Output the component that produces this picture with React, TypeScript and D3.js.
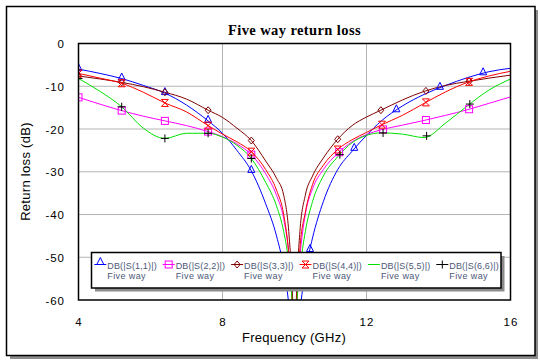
import React from 'react';
import * as d3 from 'd3';

const W = 540;
const H = 362;

// frequency grid (GHz), denser around the 10 GHz match
const freqs = [4.0, 4.6, 5.2, 5.8, 6.4, 7.0, 7.6, 8.0, 8.4, 8.8, 9.2, 9.5, 9.7, 9.85, 9.95, 10.0,
    10.05, 10.15, 10.3, 10.5, 10.8, 11.2, 11.6, 12.0, 12.4, 13.0, 13.6, 14.2, 14.8, 15.4, 16.0];

const s11 = [-6.0, -7.0, -8.2, -9.8, -11.6, -14.4, -18.1, -21.0, -25.0, -29.8, -37.5, -45.0, -52.5, -62, -74, -80,
    -74, -63, -53.5, -45.5, -37.0, -29.5, -25.2, -21.5, -18.2, -14.6, -11.9, -9.8, -8.0, -6.6, -5.8];
const s22 = [-12.6, -14.2, -15.7, -17.0, -18.1, -19.2, -20.6, -21.8, -23.5, -26.0, -30.5, -35.5, -41, -50, -62, -70,
    -62, -50, -40, -34, -29.5, -25.7, -23.0, -21.3, -20.2, -19.1, -18.0, -16.8, -15.5, -14.0, -12.5];
const s33 = [-7.6, -8.3, -9.1, -10.1, -11.4, -13.0, -15.6, -17.3, -19.8, -22.7, -27.5, -31.5, -35.5, -45, -60, -75,
    -60, -44, -35.5, -31.0, -26.8, -22.4, -19.2, -17.2, -15.6, -13.2, -11.2, -9.8, -8.9, -8.1, -7.4];
const s44 = [-7.0, -8.1, -9.3, -11.4, -13.9, -16.0, -19.2, -21.2, -23.0, -25.3, -29.5, -34.3, -40, -50, -63, -72,
    -63, -48, -39.5, -33, -28.5, -24.8, -22.5, -20.8, -19.1, -16.8, -14.0, -11.3, -9.1, -7.6, -6.5];
const s55 = [-8.2, -11.2, -14.8, -19.8, -22.2, -21.0, -21.0, -21.9, -23.8, -26.9, -32.5, -38, -44, -52, -62, -68,
    -62, -53, -44, -37, -31, -26.5, -23.2, -21.5, -20.9, -21.2, -22.0, -18.6, -14.6, -10.9, -8.3];
// S(6,6) trace coincides with S(5,5); only its markers show
const s66 = [-8.2, -11.2, -14.8, -19.8, -22.2, -21.0, -21.0, -21.9, -23.8, -26.9, -32.5, -38, -44, -52, -62, -68,
    -62, -53, -44, -37, -31, -26.5, -23.2, -21.5, -20.9, -21.2, -22.0, -18.6, -14.6, -10.9, -8.3];

// marker frequencies per trace
const marks11 = [4.0, 5.2, 6.4, 7.6, 8.8, 10.43, 11.66, 12.83, 14.04, 15.24];
const marks22 = [4.0, 5.2, 6.4, 7.6, 8.8, 11.24, 12.46, 13.65, 14.85];
const marks33 = [4.0, 5.2, 6.4, 7.6, 8.8, 11.2, 12.4, 13.65, 14.85];
const marks44 = [4.0, 5.2, 6.4, 7.6, 8.8, 11.2, 12.43, 13.65, 14.85];
const marks55: number[] = [];
const marks66 = [4.0, 5.2, 6.4, 7.6, 8.8, 11.26, 12.46, 13.67, 14.87];

const names = ['DB(|S(1,1)|)', 'DB(|S(2,2)|)', 'DB(|S(3,3)|)', 'DB(|S(4,4)|)', 'DB(|S(5,5)|)', 'DB(|S(6,6)|)'];
const subName = 'Five way';

const xTicks = [4, 8, 12, 16];
const yTicks = [0, -10, -20, -30, -40, -50, -60];

type Shape = 'tri' | 'square' | 'diamond' | 'hourglass' | 'none' | 'plus';

const marker = (shape: Shape, cx: number, cy: number, color: string, key: string) => {
    const common = { fill: 'none', stroke: color, strokeWidth: 1 };
    switch (shape) {
        case 'tri':
            return <path key={key} d={`M${cx - 3.5},${cy + 1.5}L${cx},${cy - 5.5}L${cx + 3.5},${cy + 1.5}Z`} {...common} />;
        case 'square':
            return <rect key={key} x={cx - 3.5} y={cy - 3.5} width={7} height={7} {...common} />;
        case 'diamond':
            return <path key={key} d={`M${cx},${cy - 3.5}L${cx + 3},${cy}L${cx},${cy + 3.5}L${cx - 3},${cy}Z`} {...common} />;
        case 'hourglass':
            return <path key={key} d={`M${cx - 3.5},${cy - 3.5}H${cx + 3.5}L${cx - 3.5},${cy + 3.5}H${cx + 3.5}Z`} {...common} />;
        case 'plus':
            return <path key={key} d={`M${cx - 4},${cy}H${cx + 4}M${cx},${cy - 4}V${cy + 4}`} {...common} />;
        default:
            return null;
    }
};

const App = () => {
    const left = 78.5, right = 510.5, top = 43.5, bottom = 300;
    const x = d3.scaleLinear([4, 16], [left, right]);
    const y = d3.scaleLinear([-60, 0], [bottom, top]);

    const series = [
        { vals: s11, marks: marks11, color: '#0000ff', shape: 'tri' as Shape, line: true },
        { vals: s22, marks: marks22, color: '#ff00ff', shape: 'square' as Shape, line: true },
        { vals: s33, marks: marks33, color: '#800000', shape: 'diamond' as Shape, line: true },
        { vals: s44, marks: marks44, color: '#ff0000', shape: 'hourglass' as Shape, line: true },
        { vals: s55, marks: marks55, color: '#00e000', shape: 'none' as Shape, line: true },
        { vals: s66, marks: marks66, color: '#000000', shape: 'plus' as Shape, line: false },
    ];

    const line = d3.line<number>()
        .x((_, i) => x(freqs[i]))
        .y(d => y(d))
        .curve(d3.curveMonotoneX);

    const font = 'Arial, "Liberation Sans", sans-serif';
    const legX = 91.5, legY = 252.5, legW = 409.5, legH = 35.5;
    const entryW = 68.4;

    return (
        <svg width={W} height={H} style={{ position: 'absolute', left: 0, top: 0, background: '#fff' }}>
            <defs>
                <clipPath id='plot'>
                    <rect x={left} y={top} width={right - left} height={bottom - top} />
                </clipPath>
            </defs>
            {/* outer frame with shadow */}
            <rect x={10} y={10} width={528} height={349} fill='#8c8c8c' />
            <rect x={6.5} y={6.5} width={528.5} height={349} fill='#fff' stroke='#000' strokeWidth={1.5} />

            <text x={294.5} y={35} textAnchor='middle' fontFamily='"Liberation Serif", "Times New Roman", serif'
                fontWeight='bold' fontSize={14.5} letterSpacing={0.4}>Five way return loss</text>

            {/* grid */}
            {xTicks.slice(1, -1).map(t => (
                <line key={`gx${t}`} x1={x(t)} x2={x(t)} y1={top} y2={bottom} stroke='#b4b4b4' strokeWidth={1} />
            ))}
            {yTicks.slice(1, -1).map(t => (
                <line key={`gy${t}`} x1={left} x2={right} y1={y(t)} y2={y(t)} stroke='#b4b4b4' strokeWidth={1} />
            ))}

            {/* tick labels */}
            {yTicks.map(t => (
                <text key={`ty${t}`} x={65} y={y(t) + 4.5} textAnchor='end' fontFamily={font} fontSize={11.5}
                    letterSpacing={1}>{t}</text>
            ))}
            {xTicks.map(t => (
                <text key={`tx${t}`} x={x(t) + 0.5} y={326} textAnchor='middle' fontFamily={font} fontSize={11.5}
                    letterSpacing={1}>{t}</text>
            ))}
            <text x={294} y={342} textAnchor='middle' fontFamily={font} fontSize={13} letterSpacing={0.3}>
                Frequency (GHz)
            </text>
            <text transform='translate(29.5,171.5) rotate(-90)' textAnchor='middle' fontFamily={font} fontSize={13}
                letterSpacing={0.3}>Return loss (dB)</text>

            {/* traces */}
            <g clipPath='url(#plot)'>
                {series.map((s, i) => s.line ? (
                    <path key={`l${i}`} d={line(s.vals) || ''} fill='none' stroke={s.color} strokeWidth={1} />
                ) : null)}
                {series.map((s, i) => {
                    const interp = d3.scaleLinear(freqs, s.vals);
                    return s.marks.map((f, j) => {
                        const v = interp(f);
                        if (v < -60) return null;
                        return marker(s.shape, x(f), y(v), s.color, `m${i}-${j}`);
                    });
                })}
            </g>

            <rect x={left} y={top} width={right - left} height={bottom - top} fill='none' stroke='#000' strokeWidth={1.5} />

            {/* legend */}
            <rect x={legX + 3.5} y={legY + 3.5} width={legW} height={legH} fill='#8c8c8c' />
            <rect x={legX} y={legY} width={legW} height={legH} fill='#fff' stroke='#000' strokeWidth={1.5} />
            {series.map((s, i) => {
                const tx = 107.3 + entryW * i;
                const ly = 264.5;
                const my = s.shape === 'tri' ? ly - 1.5 : ly;
                return (
                    <g key={`leg${i}`}>
                        <line x1={tx - 13} x2={tx - 1} y1={ly} y2={ly} stroke={s.color} strokeWidth={1} />
                        {marker(s.shape, tx - 7, my, s.color, `lm${i}`)}
                        <text x={tx} y={268.5} fontFamily={font} fontSize={9} fill='#4c5878' letterSpacing={0.15}>{names[i]}</text>
                        <text x={tx} y={279} fontFamily={font} fontSize={9} fill='#4c5878' letterSpacing={0.4}>{subName}</text>
                    </g>
                );
            })}
        </svg>
    );
};

export default App;
